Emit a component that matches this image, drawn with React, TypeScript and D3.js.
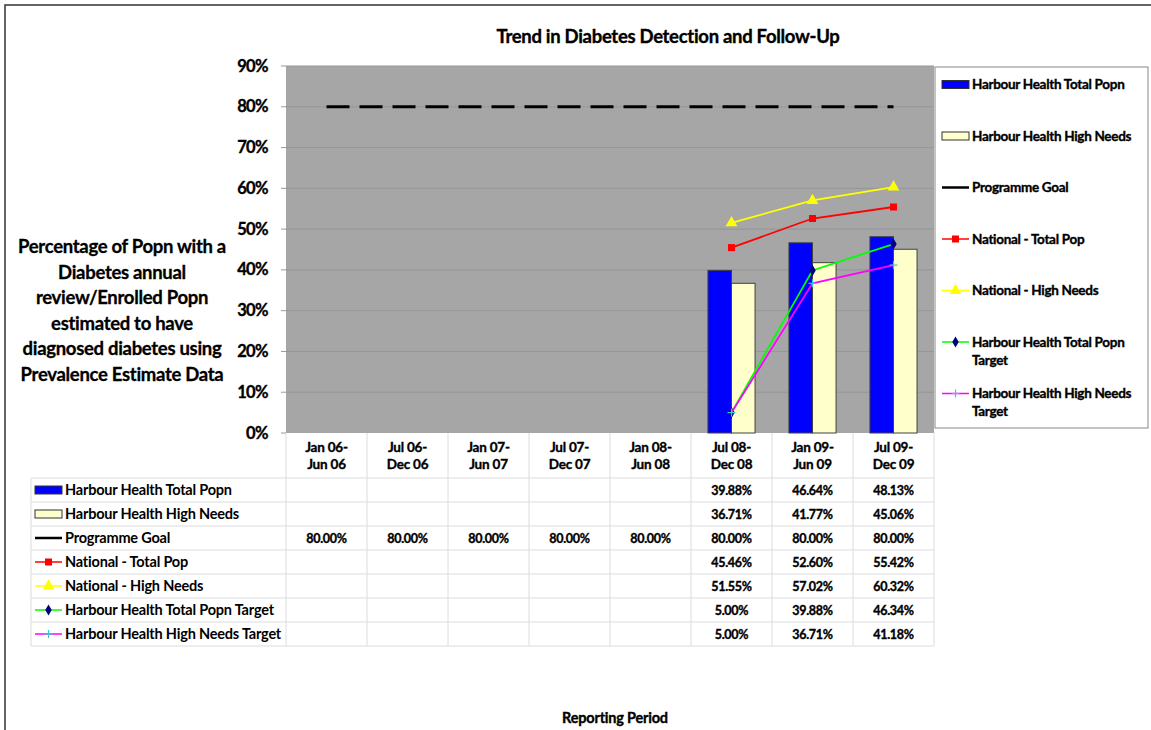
import { useEffect } from "react";
import * as d3 from "d3";

const width = 1151;
const height = 730;

// period labels, two lines each
const categories = [
  ["Jan 06-", "Jun 06"],
  ["Jul 06-", "Dec 06"],
  ["Jan 07-", "Jun 07"],
  ["Jul 07-", "Dec 07"],
  ["Jan 08-", "Jun 08"],
  ["Jul 08-", "Dec 08"],
  ["Jan 09-", "Jun 09"],
  ["Jul 09-", "Dec 09"],
];

const hhTotal = [null, null, null, null, null, 39.88, 46.64, 48.13];
const hhHigh = [null, null, null, null, null, 36.71, 41.77, 45.06];
const programmeGoal = [80, 80, 80, 80, 80, 80, 80, 80];
const nationalTotal = [null, null, null, null, null, 45.46, 52.6, 55.42];
const nationalHigh = [null, null, null, null, null, 51.55, 57.02, 60.32];
const hhTotalTarget = [null, null, null, null, null, 5.0, 39.88, 46.34];
const hhHighTarget = [null, null, null, null, null, 5.0, 36.71, 41.18];

const yTicks = [0, 10, 20, 30, 40, 50, 60, 70, 80, 90];

const yTitle = [
  "Percentage of Popn with a",
  "Diabetes annual",
  "review/Enrolled Popn",
  "estimated to have",
  "diagnosed diabetes using",
  "Prevalence Estimate Data",
];

type Series = {
  name: string[]; // legend lines (right legend)
  label: string; // table label
  values: (number | null)[];
  kind: "bar" | "line";
  color: string;
  marker?: "square" | "triangle" | "diamond" | "plus";
  markerColor?: string;
};

const series: Series[] = [
  { name: ["Harbour Health Total Popn"], label: "Harbour Health Total Popn", values: hhTotal, kind: "bar", color: "#0000ff" },
  { name: ["Harbour Health High Needs"], label: "Harbour Health High Needs", values: hhHigh, kind: "bar", color: "#ffffcc" },
  { name: ["Programme Goal"], label: "Programme Goal", values: programmeGoal, kind: "line", color: "#000000" },
  { name: ["National - Total Pop"], label: "National - Total Pop", values: nationalTotal, kind: "line", color: "#ff0000", marker: "square", markerColor: "#ff0000" },
  { name: ["National - High Needs"], label: "National - High Needs", values: nationalHigh, kind: "line", color: "#ffff00", marker: "triangle", markerColor: "#ffff00" },
  { name: ["Harbour Health Total Popn", "Target"], label: "Harbour Health Total Popn Target", values: hhTotalTarget, kind: "line", color: "#00ff00", marker: "diamond", markerColor: "#000080" },
  { name: ["Harbour Health High Needs", "Target"], label: "Harbour Health High Needs Target", values: hhHighTarget, kind: "line", color: "#ff00ff", marker: "plus", markerColor: "#33cccc" },
];

const font = "Lato, 'Open Sans', sans-serif";

const plotLeft = 286;
const plotRight = 934;
const plotTop = 66;
const plotBottom = 433;
const rowTop = 478;
const rowH = 24;
const tableLeft = 31;

// heavier look like the original bold text
const heavy = { fontWeight: "bold", stroke: "#000", strokeWidth: 0.35 } as const;

function Marker({ type, x, y, color }: { type?: string; x: number; y: number; color?: string }) {
  if (!type) return null;
  if (type === "square") return <rect x={x - 3.5} y={y - 3.5} width={7} height={7} fill={color} />;
  if (type === "triangle") {
    const s = d3.symbol(d3.symbolTriangle, 60)();
    return <path d={s || ""} transform={`translate(${x},${y})`} fill={color} />;
  }
  if (type === "diamond") {
    const s = d3.symbol(d3.symbolDiamond, 36)();
    return <path d={s || ""} transform={`translate(${x},${y})`} fill={color} />;
  }
  if (type === "plus") {
    return (
      <g stroke={color} strokeWidth={1.2}>
        <line x1={x - 4} x2={x + 4} y1={y} y2={y} />
        <line x1={x} x2={x} y1={y - 4} y2={y + 4} />
      </g>
    );
  }
  return null;
}

function LegendSwatch({ s, x, y, w }: { s: Series; x: number; y: number; w: number }) {
  if (s.kind === "bar") {
    return <rect x={x} y={y - 4} width={w} height={8} fill={s.color} stroke="#333" strokeWidth={1} />;
  }
  return (
    <g>
      <line x1={x} x2={x + w} y1={y} y2={y} stroke={s.color} strokeWidth={s.name[0] === "Programme Goal" ? 2.5 : 1.5} />
      <Marker type={s.marker} x={x + w / 2} y={y} color={s.markerColor} />
    </g>
  );
}

const App = () => {
  useEffect(() => {
    document.body.style.margin = "0";
  }, []);

  const x = d3
    .scaleBand<number>()
    .domain(categories.map((_, i) => i))
    .range([plotLeft, plotRight])
    .padding(0);
  const inner = d3
    .scaleBand<string>()
    .domain(["total", "high"])
    .range([0, x.bandwidth()])
    .paddingInner(0)
    .paddingOuter(0.72);
  const y = d3.scaleLinear().domain([0, 90]).range([plotBottom, plotTop]);
  const cx = (i: number) => (x(i) as number) + x.bandwidth() / 2;

  const line = d3
    .line<{ i: number; v: number | null }>()
    .defined((d) => d.v != null)
    .x((d) => cx(d.i))
    .y((d) => y(d.v as number));

  const barKeys = ["total", "high"];
  const bars = series.filter((s) => s.kind === "bar");
  const lines = series.filter((s) => s.kind === "line");

  return (
    <svg width={width} height={height} style={{ display: "block", fontFamily: font }}>
      <rect x={0} y={0} width={width} height={height} fill="#fff" />
      <rect x={5} y={5} width={width + 20} height={height + 20} fill="none" stroke="#333" strokeWidth={1.5} />

      <text x={668} y={43} textAnchor="middle" fontSize={18.5} letterSpacing={-0.3} {...heavy}>
        Trend in Diabetes Detection and Follow-Up
      </text>

      {/* plot area */}
      <rect x={plotLeft} y={plotTop} width={plotRight - plotLeft} height={plotBottom - plotTop} fill="#a6a6a6" />
      {yTicks.map((t) => (
        <g key={t}>
          {t > 0 && <line x1={plotLeft} x2={plotRight} y1={y(t)} y2={y(t)} stroke="#969696" strokeWidth={1} />}
          <line x1={plotLeft - 5} x2={plotLeft} y1={y(t)} y2={y(t)} stroke="#999" />
          <text x={268} y={y(t) + 5.5} textAnchor="end" fontSize={16.5} letterSpacing={-0.6} {...heavy}>
            {t}%
          </text>
        </g>
      ))}

      {/* y title */}
      {yTitle.map((l, i) => (
        <text key={l} x={122} y={253 + i * 25.6} textAnchor="middle" fontSize={18.5} letterSpacing={-0.3} {...heavy} strokeWidth={0.3}>
          {l}
        </text>
      ))}

      {/* bars */}
      {bars.map((s, k) =>
        s.values.map((v, i) =>
          v == null ? null : (
            <rect
              key={`${k}-${i}`}
              x={(x(i) as number) + (inner(barKeys[k]) as number)}
              y={y(v)}
              width={inner.bandwidth()}
              height={plotBottom - y(v)}
              fill={s.color}
              stroke="#404040"
              strokeWidth={1}
            />
          )
        )
      )}

      {/* lines */}
      {lines.map((s) => {
        const pts = s.values.map((v, i) => ({ i, v }));
        const isGoal = s.label === "Programme Goal";
        return (
          <g key={s.label}>
            <path
              d={line(pts) || ""}
              fill="none"
              stroke={s.color}
              strokeWidth={isGoal ? 3 : 1.8}
              strokeDasharray={isGoal ? "23 10" : undefined}
            />
            {pts.map((p) => (p.v == null ? null : <Marker key={p.i} type={s.marker} x={cx(p.i)} y={y(p.v)} color={s.markerColor} />))}
          </g>
        );
      })}

      {/* right legend */}
      <rect x={935} y={67} width={213} height={361} fill="#fff" stroke="#888" strokeWidth={1} />
      {series.map((s, i) => {
        const ly = 84.5 + i * 51.5;
        return (
          <g key={s.label}>
            <LegendSwatch s={s} x={942} y={ly} w={27} />
            {s.name.map((n, j) => (
              <text key={n} x={972} y={ly + 4.5 + j * 18} fontSize={13.5} letterSpacing={-0.3} {...heavy}>
                {n}
              </text>
            ))}
          </g>
        );
      })}

      {/* data table */}
      <g stroke="#dcdcdc" strokeWidth={1}>
        {categories.map((_, i) => (
          <line key={i} x1={x(i) as number} x2={x(i) as number} y1={plotBottom} y2={rowTop + rowH * series.length} />
        ))}
        <line x1={plotRight} x2={plotRight} y1={plotBottom} y2={rowTop + rowH * series.length} />
        <line x1={tableLeft} x2={tableLeft} y1={rowTop} y2={rowTop + rowH * series.length} />
        {d3.range(series.length + 1).map((r) => (
          <line key={r} x1={tableLeft} x2={plotRight} y1={rowTop + r * rowH} y2={rowTop + r * rowH} />
        ))}
      </g>
      {categories.map((c, i) => (
        <g key={i}>
          <text x={cx(i)} y={452} textAnchor="middle" fontSize={13.5} letterSpacing={-0.2} {...heavy}>
            {c[0]}
          </text>
          <text x={cx(i)} y={469} textAnchor="middle" fontSize={13.5} letterSpacing={-0.2} {...heavy}>
            {c[1]}
          </text>
        </g>
      ))}
      {series.map((s, r) => {
        const ry = rowTop + r * rowH + rowH / 2;
        return (
          <g key={s.label}>
            <LegendSwatch s={s} x={35} y={ry} w={27} />
            <text x={65} y={ry + 5} fontSize={14.5} letterSpacing={-0.2} fontWeight="bold">
              {s.label}
            </text>
            {s.values.map((v, i) =>
              v == null ? null : (
                <text key={i} x={cx(i)} y={ry + 4.5} textAnchor="middle" fontSize={12.5} letterSpacing={-0.3} {...heavy}>
                  {d3.format(".2f")(v)}%
                </text>
              )
            )}
          </g>
        );
      })}

      <text x={615} y={723} textAnchor="middle" fontSize={14.5} letterSpacing={-0.2} {...heavy}>
        Reporting Period
      </text>
    </svg>
  );
};

export default App;
